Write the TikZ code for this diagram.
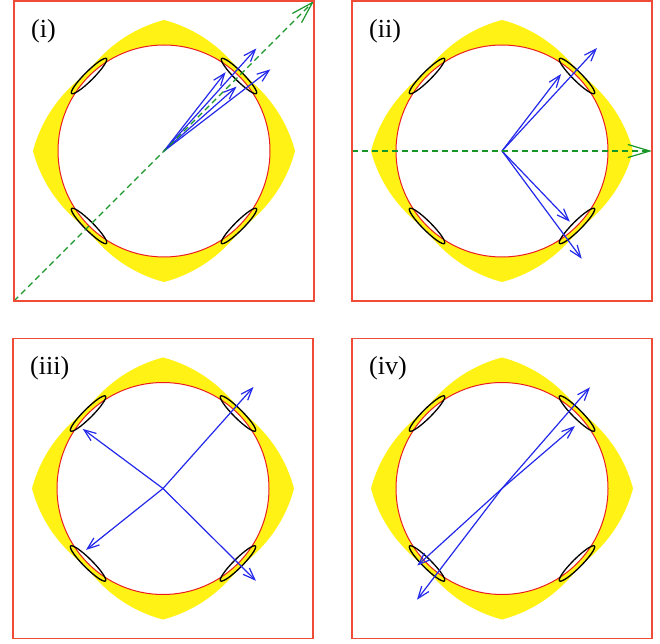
\documentclass[tikz,border=0pt]{standalone}
\usepackage{fontspec}
\setmainfont{Liberation Serif}
\usetikzlibrary{arrows.meta}
\definecolor{framered}{RGB}{240,75,55}
\definecolor{circred}{RGB}{235,30,30}
\definecolor{haloyellow}{RGB}{255,242,20}
\definecolor{axgreen}{RGB}{25,150,40}
\definecolor{rayblue}{RGB}{35,40,235}
\tikzset{
  panelbox/.style={minimum size=300pt, inner sep=0pt, outer sep=0pt},
  frameline/.style={draw=framered, line width=1.5pt, solid},
  ring/.style={draw=circred, line width=1pt, fill=white},
  lens/.style={draw=black, line width=1.3pt},
  ray/.style={draw=rayblue, line width=1.2pt, -{Straight Barb[length=12pt,width=9pt]}},
  axisline/.style={draw=axgreen, line width=1.2pt, dash pattern=on 6pt off 4pt, -{Straight Barb[length=22pt,width=13pt]}},
  lab/.style={font=\fontsize{26}{30}\selectfont, anchor=west, inner sep=0pt},
  halo/.style={fill=haloyellow}
}
\newcommand\panelbase[2]{%
  \fill[halo] plot[domain=0:360,samples=361] (\x:{110+21*pow(abs(mod(\x,90)-45)/45+0.0001,1.3)}) -- cycle;
  \draw[ring] (0,0) circle (106);
  \foreach \a in {45,135,225,315}{
    \begin{scope}[shift={(\a:106)}, rotate=\a+90]
      \draw[lens] (0,0) ellipse (24.7 and 4.5);
    \end{scope}
  }
  \node[panelbox] (f#1) at (0,0) {};
  \node[lab] (l#1) at (-133,120) {#2};
  \coordinate (c#1) at (0,0);
}
\begin{document}
\begin{tikzpicture}[x=1pt,y=1pt]
\useasboundingbox[fill=white] (0,0) rectangle (660,643);
% panel (i)
\begin{scope}[shift={(164,492)}]
  \panelbase{1}{(i)}
  \coordinate (r1a) at (48:138);
  \coordinate (r1b) at (37.5:134);
  \coordinate (r1c) at (52:100);
  \coordinate (r1d) at (41.6:97);
  \foreach \t in {r1a,r1b,r1c,r1d}{\draw[ray] (c1) -- (\t);}
  \draw[axisline] (f1.south west) -- (f1.north east);
\end{scope}
% panel (ii)
\begin{scope}[shift={(502,492)}]
  \panelbase{2}{(ii)}
  \coordinate (r2a) at (47.3:140);
  \coordinate (r2b) at (52.5:97);
  \coordinate (r2c) at (-46.2:98);
  \coordinate (r2d) at (-53.5:134);
  \foreach \t in {r2a,r2b,r2c,r2d}{\draw[ray] (c2) -- (\t);}
  \draw[axisline] (f2.west) -- (f2.east);
\end{scope}
% panel (iii)
\begin{scope}[shift={(163,154.5)}]
  \panelbase{3}{(iii)}
  \coordinate (r3a) at (48.3:136);
  \coordinate (r3b) at (218.6:98.5);
  \coordinate (r3c) at (143.4:100);
  \coordinate (r3d) at (-44.8:131);
  \foreach \t in {r3a,r3b,r3c,r3d}{\draw[ray] (c3) -- (\t);}
\end{scope}
% panel (iv)
\begin{scope}[shift={(502,154.5)}]
  \panelbase{4}{(iv)}
  \coordinate (r4a) at (49:134);
  \coordinate (r4b) at (40.6:96);
  \coordinate (r4c) at (232.6:140);
  \coordinate (r4d) at (222.3:114.5);
  \foreach \t in {r4a,r4b,r4c,r4d}{\draw[ray] (c4) -- (\t);}
\end{scope}
% frames on top
\foreach \p in {1,2,3,4}{
  \draw[frameline] (f\p.south west) rectangle (f\p.north east);
}
\end{tikzpicture}
\end{document}
